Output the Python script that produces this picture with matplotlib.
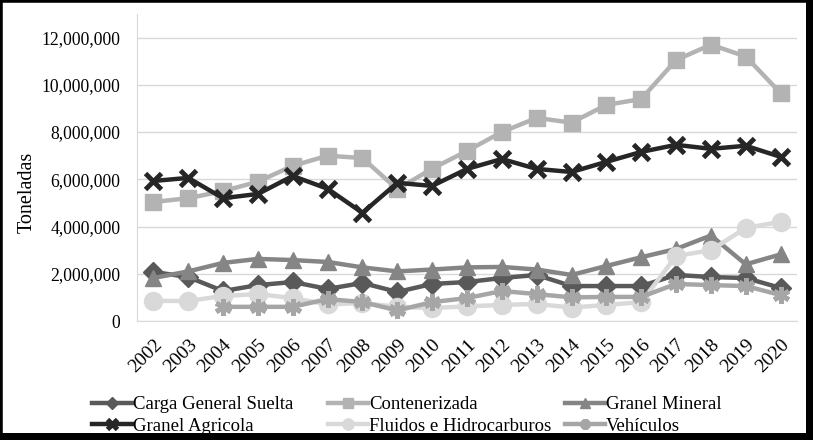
import matplotlib
matplotlib.use("Agg")
import matplotlib.pyplot as plt
import numpy as np
from matplotlib.patches import Rectangle
from matplotlib.ticker import FuncFormatter

years = [str(y) for y in range(2002, 2021)]
carga = [2.08e6, 1.86e6, 1.27e6, 1.52e6, 1.65e6, 1.36e6, 1.61e6, 1.23e6, 1.57e6, 1.65e6,
         1.82e6, 1.95e6, 1.48e6, 1.48e6, 1.48e6, 1.95e6, 1.86e6, 1.82e6, 1.40e6]
contenerizada = [5.04e6, 5.2e6, 5.5e6, 5.9e6, 6.57e6, 7.0e6, 6.9e6, 5.58e6, 6.45e6, 7.2e6,
                 8.0e6, 8.6e6, 8.4e6, 9.15e6, 9.4e6, 11.05e6, 11.7e6, 11.2e6, 9.65e6]
mineral = [1.82e6, 2.1e6, 2.46e6, 2.63e6, 2.58e6, 2.5e6, 2.27e6, 2.1e6, 2.18e6, 2.27e6,
           2.29e6, 2.18e6, 1.95e6, 2.33e6, 2.7e6, 3.05e6, 3.62e6, 2.4e6, 2.82e6]
agricola = [5.93e6, 6.06e6, 5.2e6, 5.38e6, 6.14e6, 5.6e6, 4.58e6, 5.85e6, 5.72e6, 6.44e6,
            6.86e6, 6.44e6, 6.31e6, 6.74e6, 7.16e6, 7.46e6, 7.29e6, 7.42e6, 6.95e6]
fluidos = [0.85e6, 0.85e6, 1.06e6, 1.14e6, 0.97e6, 0.7e6, 0.76e6, 0.6e6, 0.55e6, 0.62e6,
           0.68e6, 0.72e6, 0.57e6, 0.68e6, 0.8e6, 2.75e6, 3.0e6, 3.94e6, 4.2e6]
vehiculos = [np.nan, np.nan, 0.6e6, 0.6e6, 0.6e6, 0.93e6, 0.8e6, 0.45e6, 0.8e6, 0.97e6,
             1.27e6, 1.14e6, 1.0e6, 1.02e6, 1.02e6, 1.57e6, 1.52e6, 1.48e6, 1.1e6]

plt.rcParams['font.family'] = ['Liberation Serif', 'DejaVu Serif']

W, H = 813, 440
fig = plt.figure(figsize=(W / 100, H / 100), dpi=100)
ax = fig.add_axes([137 / W, 1 - 321 / H, (797 - 137) / W, (321 - 14) / H])
x = np.arange(len(years))

lw = 3.2
h_carga, = ax.plot(x, carga, color='#595959', lw=lw, marker='D', ms=10, label='Carga General Suelta')
h_cont, = ax.plot(x, contenerizada, color='#b3b3b3', lw=lw, marker='s', ms=11, label='Contenerizada')
h_min, = ax.plot(x, mineral, color='#858585', lw=lw, marker='^', ms=12, label='Granel Mineral')
h_agr, = ax.plot(x, agricola, color='#262626', lw=lw, marker='x', ms=11, mew=3.5, label='Granel Agricola')
h_flu, = ax.plot(x, fluidos, color='#d9d9d9', lw=lw, marker='o', ms=13, label='Fluidos e Hidrocarburos')
h_veh, = ax.plot(x, vehiculos, color='#a6a6a6', lw=lw, marker=(6, 2, 0), ms=12, mew=3.5, label='Vehículos')

ax.set_xlim(-0.47, 18.47)
ax.set_ylim(0, 13e6)
ax.set_yticks(np.arange(0, 12.1e6, 2e6))
ax.yaxis.set_major_formatter(FuncFormatter(lambda v, p: f"{int(v):,}"))
ax.set_xticks(x)
ax.set_xticklabels(years, rotation=45, ha='right', rotation_mode='anchor', fontsize=14)
ax.tick_params(axis='y', labelsize=12.7, length=0, pad=12)
ax.tick_params(axis='x', length=0, pad=11)
ax.grid(axis='y', color='#d9d9d9', lw=1)
ax.set_axisbelow(True)
for s in ['top', 'right']:
    ax.spines[s].set_visible(False)
ax.spines['left'].set_color('#d9d9d9')
ax.spines['bottom'].set_color('#d9d9d9')
ax.set_ylabel('Toneladas', fontsize=14.5)
ax.yaxis.set_label_coords((37 - 137) / (797 - 137), (321 - 192) / 307, transform=ax.transAxes)

cols = [([h_carga, h_agr], 92), ([h_cont, h_flu], 328), ([h_min, h_veh], 565)]
for hs, xpix in cols:
    leg = fig.legend(handles=hs, labels=[h.get_label() for h in hs], loc='center left',
                     bbox_to_anchor=(xpix / W, 1 - 415.5 / H), frameon=False, fontsize=13.5,
                     handlelength=2.15, handletextpad=0.05, labelspacing=0.22,
                     borderpad=0, borderaxespad=0, markerscale=0.62)

fig.patches.append(Rectangle((0, 0), 1, 1, transform=fig.transFigure, fill=False,
                             edgecolor='black', lw=4, zorder=10))
fig.patches.append(Rectangle((806 / W, 0), 7 / W, 1, transform=fig.transFigure,
                             facecolor='black', edgecolor='none', zorder=10))
fig.patches.append(Rectangle((0, 0), 1, 7 / H, transform=fig.transFigure,
                             facecolor='black', edgecolor='none', zorder=10))
fig.savefig('out.png', dpi=100)
